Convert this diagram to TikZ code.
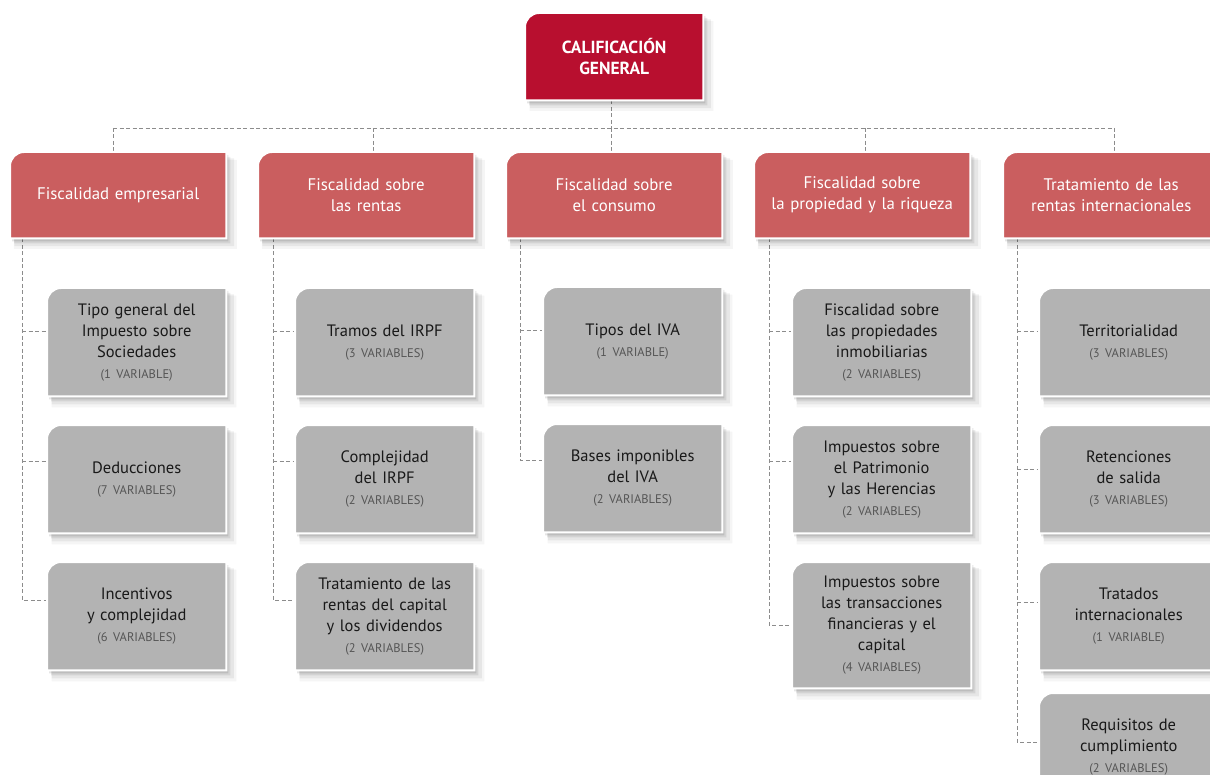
\documentclass[tikz,border=0pt]{standalone}
\usepackage{fontspec}
\setmainfont{PT Sans}
\usetikzlibrary{shadows,backgrounds}
\definecolor{topred}{HTML}{B80F2F}
\definecolor{catred}{HTML}{CA5E5F}
\definecolor{boxgray}{HTML}{B3B3B3}
\definecolor{vargray}{HTML}{555555}
\definecolor{linegray}{HTML}{8C8C8C}
\tikzset{
  conn/.style={draw=linegray, line width=0.9pt, dash pattern=on 4pt off 2.5pt},
  basebox/.style={anchor=north west, inner sep=0pt, align=center},
  topbox/.style={basebox, minimum width=178, minimum height=87, text width=160, text=white, font=\fontsize{17.5}{21}\selectfont\bfseries},
  catbox/.style={basebox, minimum width=216, minimum height=86, text width=204, text=white, font=\fontsize{16.8}{21}\selectfont},
  subbox/.style={basebox, minimum width=179, minimum height=108, text width=167, text=black!90, font=\fontsize{16.5}{21}\selectfont},
  boxshape/.style={fill=#1, draw=white, line width=2pt,
    general shadow={shadow xshift=7pt, shadow yshift=-9pt, shadow scale=1.03, opacity=0.04, fill=black},
    general shadow={shadow xshift=6pt, shadow yshift=-7pt, shadow scale=1.015, opacity=0.06, fill=black},
    general shadow={shadow xshift=4pt, shadow yshift=-5pt, opacity=0.08, fill=black},
    general shadow={shadow xshift=2pt, shadow yshift=-3pt, opacity=0.10, fill=black}},
}
\newcommand{\vars}[1]{\\{\fontsize{12.5}{21}\selectfont\color{vargray}#1}}
\newcommand{\shapebox}[2]{%
  \path[boxshape=#2] (#1.south west) -- ([yshift=-14pt]#1.north west) arc (180:90:14pt) -- (#1.north east) -- (#1.south east) -- cycle;}
\pgfdeclarelayer{bottom}
\pgfdeclarelayer{shapes}
\pgfsetlayers{bottom,background,shapes,main}
\begin{document}
\begin{tikzpicture}[x=1pt, y=-1pt]
\useasboundingbox (0,0) rectangle (1210,775);
\begin{pgfonlayer}{bottom}
  \fill[white] (0,0) rectangle (1210,775);
\end{pgfonlayer}

% top
\node[topbox] (top) at (525,13) {CALIFICACIÓN\\GENERAL};

% categories
\node[catbox] (c1) at (10,152) {Fiscalidad empresarial};
\node[catbox] (c2) at (258,152) {Fiscalidad sobre\\las rentas};
\node[catbox] (c3) at (506,152) {Fiscalidad sobre\\el consumo};
\node[catbox] (c4) at (754,152) {Fiscalidad sobre\\la propiedad y la riqueza};
\node[catbox] (c5) at (1003,152) {Tratamiento de las\\rentas internacionales};

% column 1
\node[subbox] (c1a) at (47,288) {Tipo general del\\Impuesto sobre\\Sociedades\vars{(1 VARIABLE)}};
\node[subbox] (c1b) at (47,425) {Deducciones\vars{(7 VARIABLES)}};
\node[subbox] (c1c) at (47,562) {Incentivos\\y complejidad\vars{(6 VARIABLES)}};
% column 2
\node[subbox] (c2a) at (295,288) {Tramos del IRPF\vars{(3 VARIABLES)}};
\node[subbox] (c2b) at (295,425) {Complejidad\\del IRPF\vars{(2 VARIABLES)}};
\node[subbox] (c2c) at (295,562) {Tratamiento de las\\rentas del capital\\y los dividendos\vars{(2 VARIABLES)}};
% column 3
\node[subbox] (c3a) at (543,287) {Tipos del IVA\vars{(1 VARIABLE)}};
\node[subbox] (c3b) at (543,424) {Bases imponibles\\del IVA\vars{(2 VARIABLES)}};
% column 4
\node[subbox] (c4a) at (792,288) {Fiscalidad sobre\\las propiedades\\inmobiliarias\vars{(2 VARIABLES)}};
\node[subbox] (c4b) at (792,425) {Impuestos sobre\\el Patrimonio\\y las Herencias\vars{(2 VARIABLES)}};
\node[subbox, minimum height=126] (c4c) at (792,562) {Impuestos sobre\\las transacciones\\financieras y el\\capital\vars{(4 VARIABLES)}};
% column 5
\node[subbox] (c5a) at (1039,288) {Territorialidad\vars{(3 VARIABLES)}};
\node[subbox] (c5b) at (1039,425) {Retenciones\\de salida\vars{(3 VARIABLES)}};
\node[subbox] (c5c) at (1039,562) {Tratados\\internacionales\vars{(1 VARIABLE)}};
\node[subbox] (c5d) at (1039,693) {Requisitos de\\cumplimiento\vars{(2 VARIABLES)}};

% bus coordinates
\coordinate (b0) at (611,128);
\coordinate (b1) at (113,128);
\coordinate (b2) at (373,128);
\coordinate (b3) at (611,128);
\coordinate (b4) at (865,128);
\coordinate (b5) at (1114,128);
\coordinate (t1) at (22,0);
\coordinate (t2) at (273,0);
\coordinate (t3) at (520,0);
\coordinate (t4) at (769,0);
\coordinate (t5) at (1017,0);

\begin{pgfonlayer}{background}
  \draw[conn] (top.south -| b0) -- (b0);
  \draw[conn] (b1) -- (b5);
  \foreach \i in {1,...,5} { \draw[conn] (b\i) -- (c\i.north -| b\i); }
  % column trees
  \draw[conn] (c1.south -| t1) |- (c1c.west |- 0,600);
  \draw[conn] (t1 |- 0,331) -- (c1a.west |- 0,331);
  \draw[conn] (t1 |- 0,461) -- (c1b.west |- 0,461);
  \draw[conn] (c2.south -| t2) |- (c2c.west |- 0,600);
  \draw[conn] (t2 |- 0,331) -- (c2a.west |- 0,331);
  \draw[conn] (t2 |- 0,461) -- (c2b.west |- 0,461);
  \draw[conn] (c3.south -| t3) |- (c3b.west |- 0,460);
  \draw[conn] (t3 |- 0,330) -- (c3a.west |- 0,330);
  \draw[conn] (c4.south -| t4) |- (c4c.west |- 0,625);
  \draw[conn] (t4 |- 0,331) -- (c4a.west |- 0,331);
  \draw[conn] (t4 |- 0,461) -- (c4b.west |- 0,461);
  \draw[conn] (c5.south -| t5) |- (c5d.west |- 0,742);
  \draw[conn] (t5 |- 0,331) -- (c5a.west |- 0,331);
  \draw[conn] (t5 |- 0,469) -- (c5b.west |- 0,469);
  \draw[conn] (t5 |- 0,602) -- (c5c.west |- 0,602);
\end{pgfonlayer}
\begin{pgfonlayer}{shapes}
  \shapebox{top}{topred}
  \foreach \n in {c1,c2,c3,c4,c5} { \shapebox{\n}{catred} }
  \foreach \n in {c1a,c1b,c1c,c2a,c2b,c2c,c3a,c3b,c4a,c4b,c4c,c5a,c5b,c5c,c5d} { \shapebox{\n}{boxgray} }
\end{pgfonlayer}
\end{tikzpicture}
\end{document}
